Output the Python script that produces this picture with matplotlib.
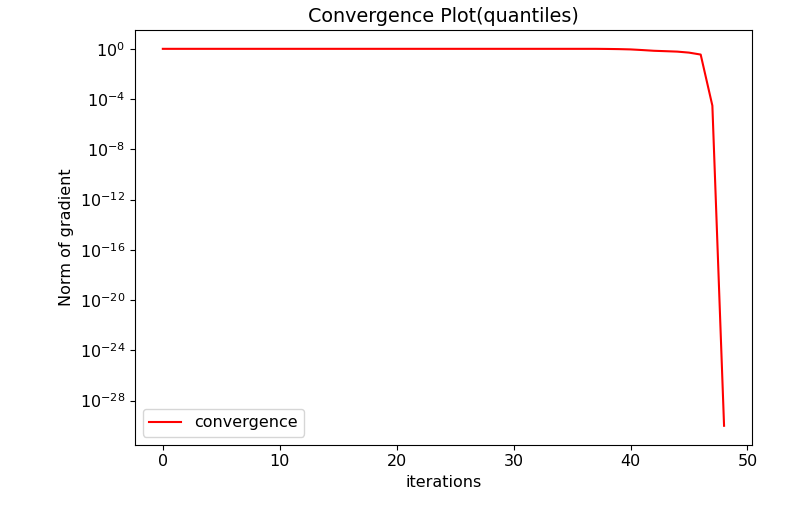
import numpy as np
import matplotlib.pyplot as plt

iterations = np.arange(49)
grad_norm = [1.0] * 38 + [0.98, 0.95, 0.9, 0.8, 0.7, 0.65, 0.6, 0.5, 0.35, 3e-5, 1e-30]

plt.rcParams['font.size'] = 11.5
fig, ax = plt.subplots(figsize=(8.07, 5.17), dpi=100)
fig.subplots_adjust(left=0.167, right=0.932, top=0.942, bottom=0.14)
ax.semilogy(iterations, grad_norm, color='red', label='convergence')
ax.set_yticks([10.0 ** k for k in range(0, -29, -4)])
ax.minorticks_off()
ax.set_title('Convergence Plot(quantiles)')
ax.set_xlabel('iterations')
ax.set_ylabel('Norm of gradient')
ax.legend(loc='lower left')
fig.savefig('out.png')
